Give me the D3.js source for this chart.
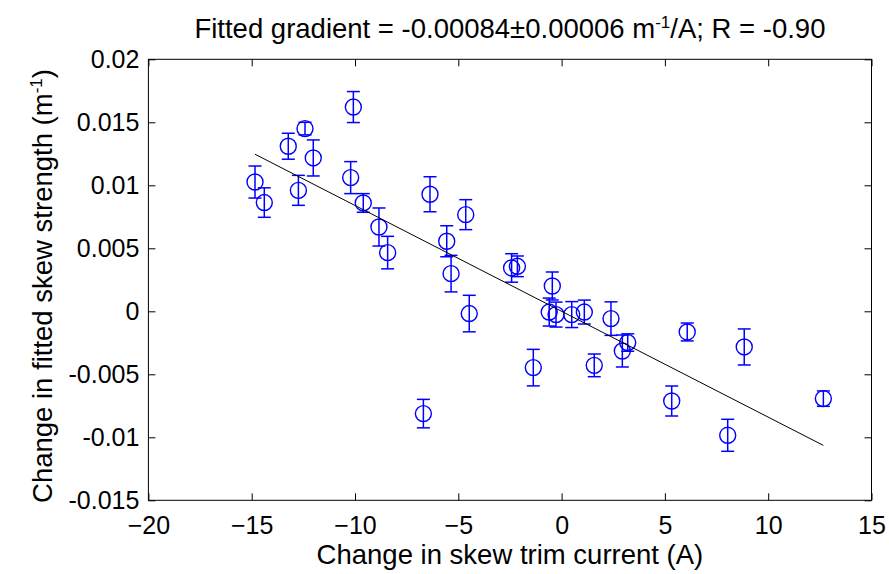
<!DOCTYPE html>
<html>
<head>
<meta charset="utf-8">
<script src="https://cdn.jsdelivr.net/npm/d3@7"></script>
<style>
  body { margin: 0; background: #fff; }
  svg { display: block; }
  text { font-family: "Liberation Sans", Arial, sans-serif; fill: #000; }
</style>
</head>
<body>
<svg id="chart" width="889" height="574"></svg>
<script>
// Change in skew trim current (A) for each measurement
const currents = [-14.84, -14.39, -13.23, -12.42, -12.02, -12.74, -10.08, -10.21, -9.60, -8.84,
                  -8.42, -6.37, -4.64, -5.56, -5.35, -4.47, -2.42, -2.14, -0.45, -0.60,
                  -0.27, 0.49, 1.10, -6.69, -1.37, 1.58, 2.39, 2.94, 3.20, 6.08,
                  8.84, 5.33, 8.04, 12.67];
// Change in fitted skew strength (m^-1)
const strengths = [0.01026, 0.00863, 0.01310, 0.01450, 0.01217, 0.00960, 0.01621, 0.01061, 0.00860, 0.00669,
                   0.00466, 0.00929, 0.00767, 0.00556, 0.00299, -0.00018, 0.00344, 0.00357, 0.00201, -0.00006,
                   -0.00026, -0.00026, -0.00006, -0.00812, -0.00447, -0.00429, -0.00058, -0.00315, -0.00248, -0.00164,
                   -0.00283, -0.00712, -0.00984, -0.00693];
// One-sigma uncertainty on each fitted strength
const strengthErrors = [0.00127, 0.00117, 0.00103, 0.00050, 0.00143, 0.00119, 0.00123, 0.00127, 0.00074, 0.00151,
                        0.00129, 0.00139, 0.00119, 0.00123, 0.00145, 0.00145, 0.00113, 0.00082, 0.00111, 0.00111,
                        0.00099, 0.00103, 0.00095, 0.00113, 0.00145, 0.00090, 0.00133, 0.00127, 0.00069, 0.00071,
                        0.00143, 0.00119, 0.00127, 0.00061];

const xTicks = [-20, -15, -10, -5, 0, 5, 10, 15];
const yTicks = [-0.015, -0.01, -0.005, 0, 0.005, 0.01, 0.015, 0.02];
const yTickLabels = ["-0.015", "-0.01", "-0.005", "0", "0.005", "0.01", "0.015", "0.02"];

// Linear fit of strength against current
const fitGradient = -0.00084;
const fitIntercept = 0.0;

const svg = d3.select("#chart");
const plot = { left: 148.4, right: 871.5, top: 59.3, bottom: 500.3 };

const x = d3.scaleLinear().domain([-20, 15]).range([plot.left, plot.right]);
const y = d3.scaleLinear().domain([-0.015, 0.02]).range([plot.bottom, plot.top]);

const tickLen = 7;
const tickFont = 25;
const labelFont = 27.5;
const supSize = 17;

// Axes: ticks point inward on all four sides, labels outside on bottom/left
const axisBottom = d3.axisBottom(x).tickValues(xTicks).tickSizeInner(-tickLen).tickSizeOuter(0)
  .tickPadding(16).tickFormat(d3.format("d"));
const axisTop = d3.axisTop(x).tickValues(xTicks).tickSizeInner(-tickLen).tickSizeOuter(0).tickFormat("");
const axisLeft = d3.axisLeft(y).tickValues(yTicks).tickSizeInner(-tickLen).tickSizeOuter(0)
  .tickPadding(9).tickFormat((d, i) => yTickLabels[i]);
const axisRight = d3.axisRight(y).tickValues(yTicks).tickSizeInner(-tickLen).tickSizeOuter(0).tickFormat("");

function styleAxis(g) {
  g.select(".domain").remove();
  g.selectAll(".tick line").attr("stroke", "#000").attr("stroke-width", 1);
  g.selectAll(".tick text").attr("font-size", tickFont)
    .attr("font-family", "Liberation Sans, Arial, sans-serif").attr("fill", "#000");
}

svg.append("g").attr("transform", `translate(0,${plot.bottom})`).call(axisBottom).call(styleAxis);
svg.append("g").attr("transform", `translate(0,${plot.top})`).call(axisTop).call(styleAxis);
svg.append("g").attr("transform", `translate(${plot.left},0)`).call(axisLeft).call(styleAxis);
svg.append("g").attr("transform", `translate(${plot.right},0)`).call(axisRight).call(styleAxis);

// Box around the plotting area
svg.append("rect")
  .attr("x", plot.left).attr("y", plot.top)
  .attr("width", plot.right - plot.left).attr("height", plot.bottom - plot.top)
  .attr("fill", "none").attr("stroke", "#000").attr("stroke-width", 1);

const pts = currents.map((c, i) => ({ c, s: strengths[i], e: strengthErrors[i] }));
const blue = "#0000ff";
const capHalf = 6.5;

// Error bars
const eb = svg.append("g").attr("stroke", blue).attr("stroke-width", 1.5).attr("fill", "none");
pts.forEach(p => {
  const cx = x(p.c), y0 = y(p.s - p.e), y1 = y(p.s + p.e);
  eb.append("line").attr("x1", cx).attr("x2", cx).attr("y1", y0).attr("y2", y1);
  eb.append("line").attr("x1", cx - capHalf).attr("x2", cx + capHalf).attr("y1", y0).attr("y2", y0);
  eb.append("line").attr("x1", cx - capHalf).attr("x2", cx + capHalf).attr("y1", y1).attr("y2", y1);
});

// Circular markers
svg.append("g").selectAll("circle").data(pts).join("circle")
  .attr("cx", d => x(d.c)).attr("cy", d => y(d.s)).attr("r", 8)
  .attr("fill", "none").attr("stroke", blue).attr("stroke-width", 1.4);

// Fitted line across the measured current range
const [cMin, cMax] = d3.extent(currents);
svg.append("line")
  .attr("x1", x(cMin)).attr("y1", y(fitIntercept + fitGradient * cMin))
  .attr("x2", x(cMax)).attr("y2", y(fitIntercept + fitGradient * cMax))
  .attr("stroke", "#000").attr("stroke-width", 1);

// Title with superscript
const title = svg.append("text")
  .attr("x", (plot.left + plot.right) / 2).attr("y", 38)
  .attr("text-anchor", "middle").attr("font-size", labelFont);
title.append("tspan").text("Fitted gradient = -0.00084\u00B10.00006 m");
title.append("tspan").attr("dy", -10).attr("font-size", supSize).text("-1");
title.append("tspan").attr("dy", 10).text("/A; R = -0.90");

// Axis labels
svg.append("text")
  .attr("x", (plot.left + plot.right) / 2).attr("y", 564)
  .attr("text-anchor", "middle").attr("font-size", labelFont)
  .text("Change in skew trim current (A)");

const yl = svg.append("text")
  .attr("transform", `translate(52,286) rotate(-90)`)
  .attr("text-anchor", "middle").attr("font-size", labelFont);
yl.append("tspan").text("Change in fitted skew strength (m");
yl.append("tspan").attr("dy", -10).attr("font-size", supSize).text("-1");
yl.append("tspan").attr("dy", 10).text(")");
</script>
</body>
</html>
